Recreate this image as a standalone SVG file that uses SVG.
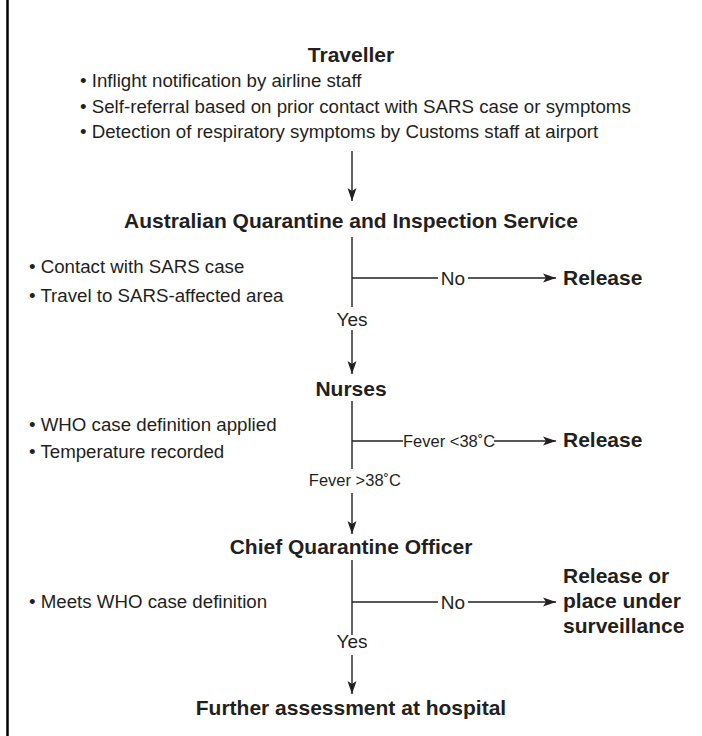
<svg xmlns="http://www.w3.org/2000/svg" width="702" height="736" viewBox="0 0 702 736">
<defs>
<style>
.h{font-family:"Liberation Sans",Arial,sans-serif;font-weight:bold;font-size:21px;fill:#231f20}
.t{font-family:"Liberation Sans",Arial,sans-serif;font-size:18.7px;fill:#231f20}
.l{font-family:"Liberation Sans",Arial,sans-serif;font-size:19px;fill:#231f20}
.f{font-family:"Liberation Sans",Arial,sans-serif;font-size:16.5px;fill:#231f20}
.c{text-anchor:middle}
.ln{stroke:#231f20;stroke-width:1.4;fill:none}
</style>
<marker id="ah" markerWidth="14" markerHeight="10" viewBox="0 0 14 10" refX="13" refY="5" orient="auto" markerUnits="userSpaceOnUse">
<path d="M0,0.5 L13,5 L0,9.5 L3,5 Z" fill="#231f20"/>
</marker>
</defs>
<rect width="702" height="736" fill="#fff"/>
<line x1="7.5" y1="0" x2="7.5" y2="736" stroke="#000" stroke-width="2.5"/>
<g id="traveller">
<text class="h c" x="351" y="62">Traveller</text>
<text class="t" x="80" y="87">• Inflight notification by airline staff</text>
<text class="t" x="80" y="113">• Self-referral based on prior contact with SARS case or symptoms</text>
<text class="t" x="80" y="138">• Detection of respiratory symptoms by Customs staff at airport</text>
</g>
<g id="aqis">
<text class="h c" x="351" y="228">Australian Quarantine and Inspection Service</text>
<text class="t" x="29" y="273">• Contact with SARS case</text>
<text class="t" x="29" y="302">• Travel to SARS-affected area</text>
</g>
<g id="release1"><text class="h" x="563" y="285">Release</text></g>
<g id="nurses">
<text class="h c" x="351" y="396">Nurses</text>
<text class="t" x="29" y="431">• WHO case definition applied</text>
<text class="t" x="29" y="458">• Temperature recorded</text>
</g>
<g id="release2"><text class="h" x="563" y="447">Release</text></g>
<g id="cqo">
<text class="h c" x="351" y="554">Chief Quarantine Officer</text>
<text class="t" x="29" y="608">• Meets WHO case definition</text>
</g>
<g id="release3">
<text class="h" x="563" y="583">Release or</text>
<text class="h" x="563" y="608">place under</text>
<text class="h" x="563" y="633">surveillance</text>
</g>
<g id="hospital"><text class="h c" x="351" y="715">Further assessment at hospital</text></g>
<g id="connectors">
<line class="ln" x1="352" y1="151" x2="352" y2="201" marker-end="url(#ah)"/>
<line class="ln" x1="352" y1="237" x2="352" y2="307"/>
<line class="ln" x1="352" y1="330" x2="352" y2="374" marker-end="url(#ah)"/>
<line class="ln" x1="352" y1="278" x2="438" y2="278"/>
<line class="ln" x1="468" y1="278" x2="556" y2="278" marker-end="url(#ah)"/>
<text class="l c" x="453" y="285">No</text>
<text class="l c" x="352" y="326">Yes</text>
<line class="ln" x1="352" y1="401" x2="352" y2="469"/>
<line class="ln" x1="352" y1="493" x2="352" y2="534" marker-end="url(#ah)"/>
<line class="ln" x1="352" y1="441" x2="403" y2="441"/>
<line class="ln" x1="494" y1="441" x2="556" y2="441" marker-end="url(#ah)"/>
<text class="f" x="403" y="447">Fever &lt;38˚C</text>
<text class="f" x="401" y="486" text-anchor="end">Fever &gt;38˚C</text>
<line class="ln" x1="352" y1="560" x2="352" y2="635"/>
<line class="ln" x1="352" y1="655" x2="352" y2="694" marker-end="url(#ah)"/>
<line class="ln" x1="352" y1="602" x2="438" y2="602"/>
<line class="ln" x1="468" y1="602" x2="556" y2="602" marker-end="url(#ah)"/>
<text class="l c" x="453" y="609">No</text>
<text class="l c" x="352" y="648">Yes</text>
</g>
</svg>
